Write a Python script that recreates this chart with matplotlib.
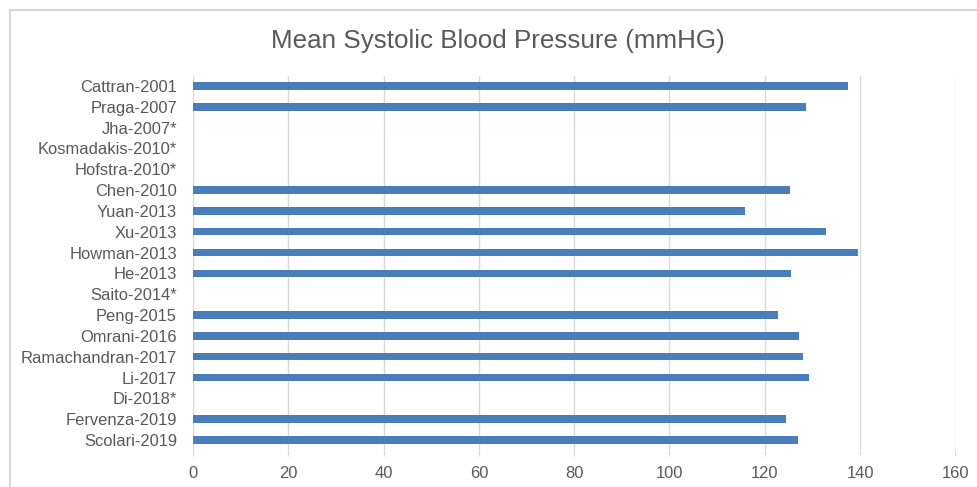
import matplotlib.pyplot as plt
from matplotlib.patches import Rectangle

plt.rcParams['font.family'] = ['Liberation Sans', 'DejaVu Sans']

# Studies listed top to bottom; None where no value was reported
studies = ['Cattran-2001', 'Praga-2007', 'Jha-2007*', 'Kosmadakis-2010*',
           'Hofstra-2010*', 'Chen-2010', 'Yuan-2013', 'Xu-2013', 'Howman-2013',
           'He-2013', 'Saito-2014*', 'Peng-2015', 'Omrani-2016',
           'Ramachandran-2017', 'Li-2017', 'Di-2018*', 'Fervenza-2019',
           'Scolari-2019']
sbp = [137.4, 128.6, None, None, None, 125.3, 115.9, 132.9, 139.5,
       125.5, None, 122.7, 127.2, 128.1, 129.2, None, 124.5, 126.9]
xticks = [0, 20, 40, 60, 80, 100, 120, 140, 160]

text_grey = '#595959'
bar_blue = '#4a7ebb'

fig = plt.figure(figsize=(9.78, 4.87), dpi=100)

# light frame around the chart area
fig.patches.append(Rectangle((10 / 978, -0.1), 1.0, 1.0 - 10 / 487 + 0.1,
                             transform=fig.transFigure, fill=False,
                             edgecolor='#d0d0d0', lw=1.2))

ax = fig.add_axes([0.1973, 0.0752, 0.9768 - 0.1973, 0.8448 - 0.0752])

ypos = list(range(len(studies)))
vals = [v if v is not None else 0 for v in sbp]
ax.barh(ypos, vals, height=0.36, color=bar_blue, zorder=3)

ax.set_xlim(0, 160)
ax.set_ylim(len(studies) - 0.5, -0.5)
ax.set_yticks(ypos)
ax.set_yticklabels(studies)
ax.set_xticks(xticks)
ax.set_xticklabels([str(t) for t in xticks])

ax.grid(axis='x', color='#d9d9d9', lw=1.0, zorder=0)
for s in ax.spines.values():
    s.set_visible(False)
ax.tick_params(axis='y', length=0, pad=11.5, labelsize=11.9, labelcolor=text_grey)
ax.tick_params(axis='x', length=4, color='#d9d9d9', pad=7, labelsize=11.9,
               labelcolor=text_grey)

fig.text(0.509, 0.915, 'Mean Systolic Blood Pressure (mmHG)', ha='center',
         va='center', fontsize=18.7, color=text_grey)

fig.savefig('out.png', dpi=100)
